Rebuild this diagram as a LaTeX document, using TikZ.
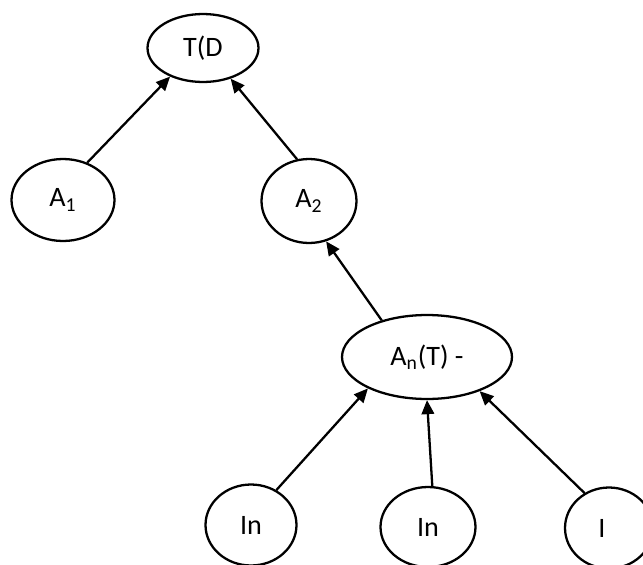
\documentclass[tikz,border=0pt]{standalone}
\usepackage{fontspec}
\setmainfont{Carlito}
\usetikzlibrary{shapes.geometric,arrows.meta}
\begin{document}
\begin{tikzpicture}[x=0.02cm,y=-0.02cm,>={Triangle[length=0.28cm,width=0.25cm]},line width=1.3pt,
  state/.style={ellipse,draw,inner sep=0pt,font=\fontsize{16}{18}\selectfont}]
\useasboundingbox (0,0) rectangle (643,565);
\clip (0,0) rectangle (643,565);
\node[state,minimum width=2.22cm,minimum height=1.36cm] (td) at (203,48) {T(D};
\node[state,minimum width=2.06cm,minimum height=1.64cm] (aone) at (63,200) {A\textsubscript{1}};
\node[state,minimum width=1.90cm,minimum height=1.68cm] (atwo) at (309,201) {A\textsubscript{2}};
\node[state,minimum width=3.40cm,minimum height=1.68cm] (an) at (427,357) {A\textsubscript{n}(T) -};
\node[state,minimum width=1.82cm,minimum height=1.62cm] (inone) at (251,525) {In};
\node[state,minimum width=1.90cm,minimum height=1.60cm] (intwo) at (428,527) {In};
\node[state,minimum width=1.76cm,minimum height=1.62cm] (ii) at (609,528) {I\hspace*{0.28cm}};
\draw[->] (aone.57)--(td.221);
\draw[->] (atwo.106)--(td.312);
\draw[->] (an.141)--(atwo.293);
\draw[->] (inone.54)--(an.208);
\draw[->] (intwo.84)--(an.270);
\draw[->] (ii.125)--(an.327);
\end{tikzpicture}
\end{document}
